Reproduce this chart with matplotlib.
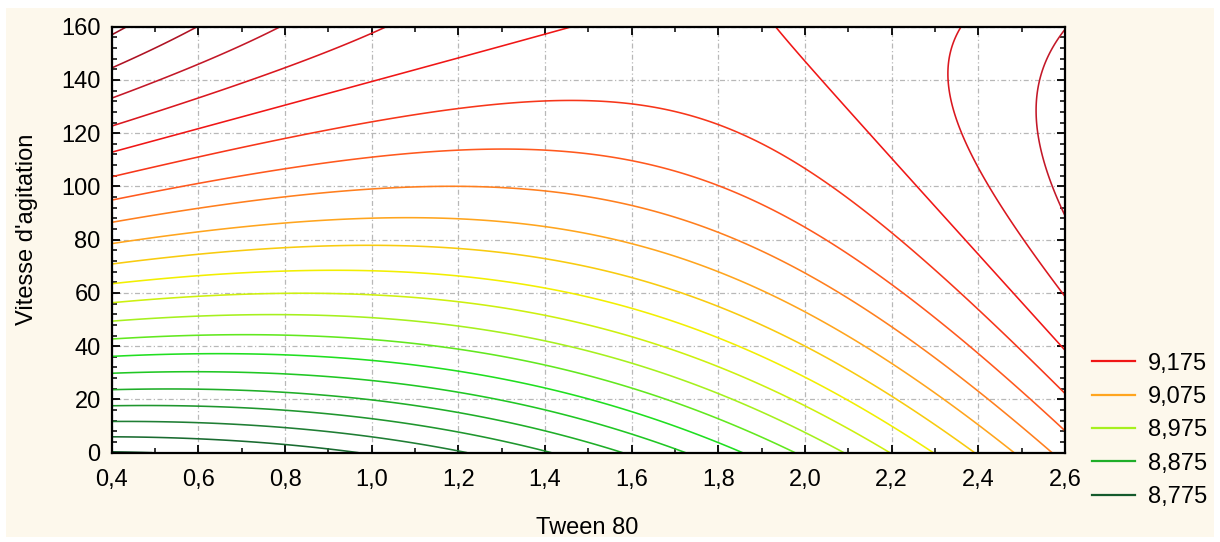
import matplotlib
matplotlib.use("Agg")
import matplotlib.pyplot as plt
import numpy as np
from matplotlib.colors import LinearSegmentedColormap, Normalize
from matplotlib.lines import Line2D
from matplotlib.patches import Rectangle
from matplotlib.ticker import MultipleLocator, AutoMinorLocator, FuncFormatter

plt.rcParams['font.family'] = ['Liberation Sans', 'DejaVu Sans']
plt.rcParams['font.size'] = 17

# quadratic response surface  z = b0 + b1*x + b2*y + b11*x^2 + b22*y^2 + b12*x*y
b0 = 8.7802
b1 = -0.0426
b2 = 0.0049285
b11 = 0.065
b22 = -8.21e-6
b12 = -0.0011125

tween_lim = [0.4, 2.6]
vitesse_lim = [0, 160]

levels = [8.775, 8.800, 8.825, 8.850, 8.875, 8.900, 8.925, 8.950, 8.975, 9.000,
          9.025, 9.050, 9.075, 9.100, 9.125, 9.150, 9.175, 9.200, 9.225, 9.250, 9.275]
legend_levels = [9.175, 9.075, 8.975, 8.875, 8.775]
legend_labels = ["9,175", "9,075", "8,975", "8,875", "8,775"]

# colour ramp, dark green -> yellow -> red -> dark red
ramp_levels = [8.775, 8.825, 8.875, 8.925, 8.975, 9.025, 9.075, 9.125, 9.175, 9.225, 9.275]
ramp_colors = ["#145a2c", "#1f7f34", "#1fae28", "#20e020", "#a6f01e", "#f2f000",
               "#ffa51e", "#ff5a1e", "#f01616", "#c41828", "#9a0c1e"]

lo, hi = levels[0], levels[-1]
cmap = LinearSegmentedColormap.from_list(
    "statcol", [((v - lo) / (hi - lo), c) for v, c in zip(ramp_levels, ramp_colors)])
norm = Normalize(lo, hi)

x = np.linspace(tween_lim[0], tween_lim[1], 400)
y = np.linspace(vitesse_lim[0], vitesse_lim[1], 400)
X, Y = np.meshgrid(x, y)
Z = b0 + b1 * X + b2 * Y + b11 * X**2 + b22 * Y**2 + b12 * X * Y

fig = plt.figure(figsize=(12.2, 5.42), dpi=100, facecolor="white")
fig.patches.append(Rectangle((0.005, 0.009), 0.99, 0.976, transform=fig.transFigure,
                             facecolor="#fdf8ec", edgecolor="none", zorder=-10))

ax = fig.add_axes([0.0916, 0.1648, 0.7814, 0.786])
ax.set_facecolor("white")
ax.contour(X, Y, Z, levels=levels, cmap=cmap, norm=norm, linewidths=1.15, zorder=2)

ax.set_xlim(tween_lim)
ax.set_ylim(vitesse_lim)
ax.xaxis.set_major_locator(MultipleLocator(0.2))
ax.xaxis.set_minor_locator(AutoMinorLocator(2))
ax.yaxis.set_major_locator(MultipleLocator(20))
ax.yaxis.set_minor_locator(AutoMinorLocator(5))
ax.xaxis.set_major_formatter(FuncFormatter(lambda v, p: f"{v:.1f}".replace(".", ",")))
ax.yaxis.set_major_formatter(FuncFormatter(lambda v, p: f"{v:.0f}"))

ax.tick_params(which="both", direction="in", top=True, right=True, color="black")
ax.tick_params(which="major", length=6, width=1.3)
ax.tick_params(which="minor", length=3.5, width=1.1)
ax.tick_params(axis="x", which="major", pad=12)
ax.tick_params(axis="y", which="major", pad=8)
for s in ax.spines.values():
    s.set_linewidth(1.6)
    s.set_zorder(5)

ax.grid(which="major", color="#b8b8b8", linestyle=(0, (4, 2, 1, 2)), linewidth=0.9, zorder=1)

ax.set_xlabel("Tween 80")
ax.set_ylabel("Vitesse d'agitation")
ax.xaxis.set_label_coords(0.499, -0.151)
ax.yaxis.set_label_coords(-0.0773, 0.525)

handles = [Line2D([], [], color=cmap(norm(v)), linewidth=1.6) for v in legend_levels]
fig.legend(handles, legend_labels, loc="upper left", bbox_to_anchor=(0.895, 0.3496),
           frameon=False, borderpad=0, borderaxespad=0, handlelength=1.82,
           handletextpad=0.55, labelspacing=0.48)

fig.savefig("out.png", dpi=100, facecolor=fig.get_facecolor())
